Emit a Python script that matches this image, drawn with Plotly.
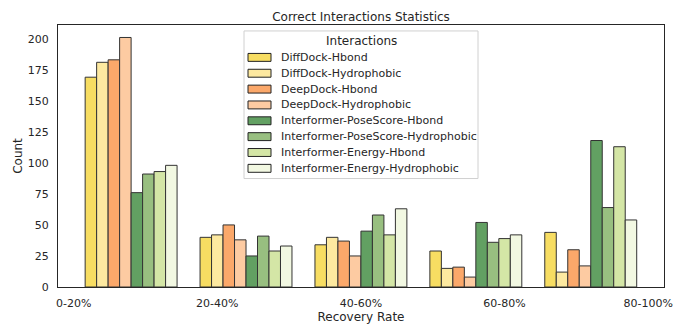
import plotly.graph_objects as go

categories = ["0-20%", "20-40%", "40-60%", "60-80%", "80-100%"]
series_names = [
    "DiffDock-Hbond",
    "DiffDock-Hydrophobic",
    "DeepDock-Hbond",
    "DeepDock-Hydrophobic",
    "Interformer-PoseScore-Hbond",
    "Interformer-PoseScore-Hydrophobic",
    "Interformer-Energy-Hbond",
    "Interformer-Energy-Hydrophobic",
]
diffdock_hbond = [169, 40, 34, 29, 44]
diffdock_hydrophobic = [181, 42, 40, 15, 12]
deepdock_hbond = [183, 50, 37, 16, 30]
deepdock_hydrophobic = [201, 38, 25, 8, 17]
ips_hbond = [76, 25, 45, 52, 118]
ips_hydrophobic = [91, 41, 58, 36, 64]
ie_hbond = [93, 29, 42, 39, 113]
ie_hydrophobic = [98, 33, 63, 42, 54]
series_values = [diffdock_hbond, diffdock_hydrophobic, deepdock_hbond, deepdock_hydrophobic,
                 ips_hbond, ips_hydrophobic, ie_hbond, ie_hydrophobic]
colors = ["#f7dd62", "#fde9a0", "#fba86a", "#fdcba2", "#62a062", "#98bf80", "#d4e6a6", "#f2f8e2"]

# histogram-like bins: 5 bins spanning 0..4 (bin width 0.8)
n = len(categories)
bin_w = (n - 1) / n
bin_centers = [bin_w * i + bin_w / 2 for i in range(n)]

FONT = "DejaVu Sans"
TXT = "#262626"
W, H = 687, 333
ML, MR, MT, MB = 58, 23, 25, 43.5
PW, PH = W - ML - MR, H - MT - MB


def px(x):  # pixel x -> paper
    return (x - ML) / PW


def py(y):  # pixel y -> paper
    return (H - MB - y) / PH


fig = go.Figure()
for name, vals, col in zip(series_names, series_values, colors):
    fig.add_trace(go.Bar(
        x=bin_centers, y=vals, name=name, showlegend=False,
        marker=dict(color=col, line=dict(color="#333333", width=1)),
    ))

# legend box (matplotlib-style)
shapes = []
annotations = []
LX0, LX1, LY0, LY1 = 244, 478, 31, 180
shapes.append(dict(type="rect", xref="paper", yref="paper",
                   x0=px(LX0), x1=px(LX1), y0=py(LY1), y1=py(LY0),
                   fillcolor="white", line=dict(color="#d0d0d0", width=1), layer="above"))
annotations.append(dict(text="Interactions", xref="paper", yref="paper",
                        x=px((LX0 + LX1) / 2), y=py(41), xanchor="center", yanchor="middle",
                        showarrow=False, font=dict(size=12, color=TXT)))
for k, (name, col) in enumerate(zip(series_names, colors)):
    yc = 57.7 + 16 * k
    shapes.append(dict(type="rect", xref="paper", yref="paper",
                       x0=px(248), x1=px(271), y0=py(yc + 4), y1=py(yc - 4),
                       fillcolor=col, line=dict(color="#222222", width=1), layer="above"))
    annotations.append(dict(text=name, xref="paper", yref="paper",
                            x=px(279), y=py(yc), xanchor="left", yanchor="middle",
                            showarrow=False, font=dict(size=11, color=TXT)))

fig.update_layout(
    width=W, height=H,
    margin=dict(l=ML, r=MR, t=MT, b=MB),
    paper_bgcolor="white", plot_bgcolor="white",
    barmode="group", bargap=0.2, bargroupgap=0,
    font=dict(family=FONT, size=11, color=TXT),
    title=dict(text="Correct Interactions Statistics", x=px(361), xanchor="center",
               xref="paper", y=1 - 16.5 / H, yanchor="middle", font=dict(size=12, color=TXT)),
    showlegend=False,
    shapes=shapes,
    annotations=annotations,
)
fig.update_xaxes(
    range=[-0.109, 4.11], tickmode="array", tickvals=list(range(n)), ticktext=categories,
    showgrid=False, zeroline=False, showline=True, mirror=True, linecolor=TXT, linewidth=1,
    ticks="", ticklabelstandoff=6,
    title=dict(text="Recovery Rate", font=dict(size=12, color=TXT), standoff=2),
)
fig.update_yaxes(
    range=[0, 211.05], tickmode="array", tickvals=list(range(0, 201, 25)),
    showgrid=False, zeroline=False, showline=True, mirror=True, linecolor=TXT, linewidth=1,
    ticks="", ticklabelstandoff=6,
    title=dict(text="Count", font=dict(size=12, color=TXT), standoff=2),
)

fig.write_html("out.html")
